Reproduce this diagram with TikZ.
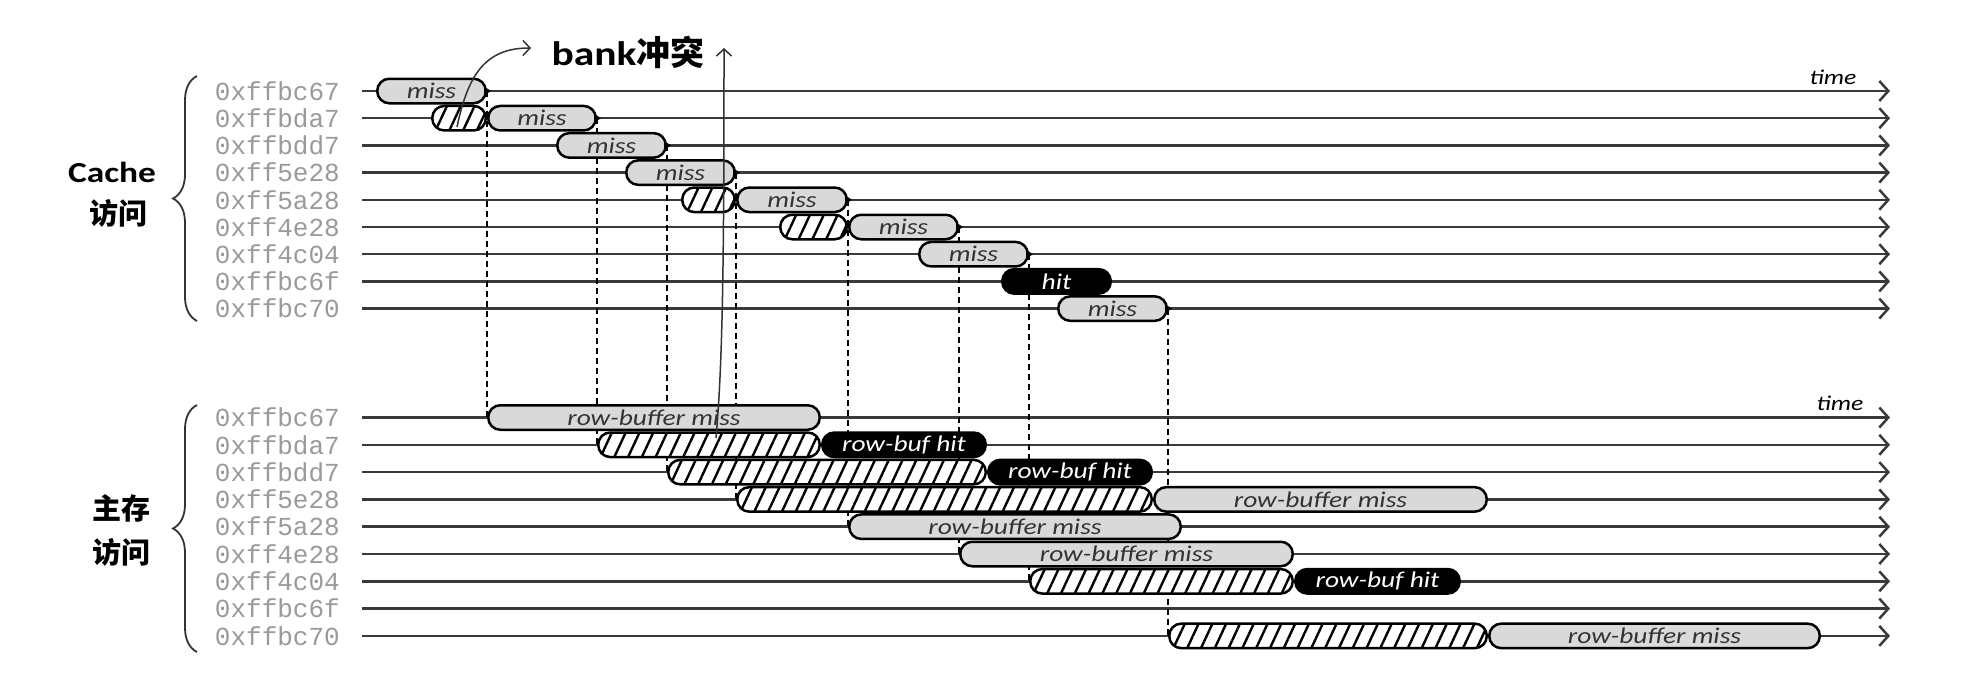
\documentclass[tikz,border=0pt]{standalone}
\usepackage{fontspec}
\setmainfont{Carlito}
\newfontfamily\boxfont[FakeStretch=1.22]{Carlito}
\newfontfamily\addrfont{Liberation Mono}
\newfontfamily\cjkfont{Noto Sans CJK SC}
\usetikzlibrary{arrows.meta,patterns.meta,decorations.pathreplacing,backgrounds}
\definecolor{boxgray}{HTML}{D9D9D9}
\definecolor{linegray}{HTML}{3A3A3A}
\definecolor{addrgray}{HTML}{9A9A9A}
\begin{document}
\begin{tikzpicture}[x=1pt,y=-1pt,
  box/.style={rectangle, rounded corners=12pt, draw=black, line width=2.5pt,
    minimum height=24.5pt, inner sep=0pt,
    font=\boxfont\itshape\fontsize{22.5pt}{22.5pt}\selectfont},
  gbox/.style={box, fill=boxgray, text=black!80},
  bbox/.style={box, fill=black, text=white},
  hbox/.style={box, preaction={fill=white},
    pattern={Lines[angle=65,distance=12.5pt,line width=2.4pt]}, pattern color=black},
  addr/.style={anchor=east, inner sep=0pt, text=addrgray,
    font=\addrfont\fontsize{26pt}{26pt}\selectfont},
  timeline/.style={draw=linegray, line width=2.5pt,
    -{Straight Barb[length=9pt,width=20pt]}},
  dashline/.style={draw=black, line width=1.6pt, dash pattern=on 6pt off 4pt},
  bracestyle/.style={draw=black!80, line width=1.8pt, decorate,
    decoration={brace, amplitude=24pt}},
  grouplbl/.style={inner sep=0pt, font=\boxfont\bfseries\fontsize{29pt}{29pt}\selectfont},
  cjklbl/.style={inner sep=0pt, font=\cjkfont\bfseries\fontsize{29pt}{29pt}\selectfont},
  timelbl/.style={inner sep=0pt, font=\boxfont\itshape\fontsize{21pt}{21pt}\selectfont},
  note/.style={draw=black!80, line width=1.5pt, -{Straight Barb[length=7pt,width=15pt]}}
]
\useasboundingbox (0,0) rectangle (1966,680);

% ---------- address labels ----------
\foreach \i/\y/\t in {0/91/0xffbc67,1/118.2/0xffbda7,2/145.4/0xffbdd7,3/172.6/0xff5e28,
  4/199.8/0xff5a28,5/227/0xff4e28,6/254.2/0xff4c04,7/281.4/0xffbc6f,8/308.6/0xffbc70}{
  \node[addr] (ta\i) at (340,\y) {\t};
  \coordinate (tl\i) at (362,\y);
  \coordinate (tr\i) at (1890,\y);
}
\foreach \i/\y/\t in {0/417.5/0xffbc67,1/444.8/0xffbda7,2/472.1/0xffbdd7,3/499.4/0xff5e28,
  4/526.7/0xff5a28,5/554/0xff4e28,6/581.3/0xff4c04,7/608.6/0xffbc6f,8/635.9/0xffbc70}{
  \node[addr] (ba\i) at (340,\y) {\t};
  \coordinate (bl\i) at (362,\y);
  \coordinate (br\i) at (1890,\y);
}

% ---------- group labels and braces ----------
\node[grouplbl] (cachelbl) at (112,172) {Cache};
\node[cjklbl] (cachefw) at (118,213) {访问};
\node[cjklbl] (mainlbl) at (121,508) {主存};
\node[cjklbl] (mainfw) at (121,552) {访问};
\coordinate (tbb) at (197,321);
\coordinate (tbt) at (197,76);
\coordinate (bbb) at (197,652);
\coordinate (bbt) at (197,405);
\draw[bracestyle] (tbb) -- (tbt);
\draw[bracestyle] (bbb) -- (bbt);

\node[timelbl] (time1) at (1833,77) {time};
\node[timelbl] (time2) at (1840,403) {time};

% ---------- cache accesses ----------
\node[gbox, minimum width=108.5pt] (c0) at (431.5,91) {miss};
\node[hbox, minimum width=53.5pt] (h1) at (459,118.2) {};
\node[gbox, minimum width=107.5pt] (c1) at (542,118.2) {miss};
\node[gbox, minimum width=108.5pt] (c2) at (611.5,145.4) {miss};
\node[gbox, minimum width=108.5pt] (c3) at (680.5,172.6) {miss};
\node[hbox, minimum width=52.5pt] (h4) at (708.5,199.8) {};
\node[gbox, minimum width=109.5pt] (c4) at (792,199.8) {miss};
\node[hbox, minimum width=66.5pt] (h5) at (813.5,227) {};
\node[gbox, minimum width=108.5pt] (c5) at (903.5,227) {miss};
\node[gbox, minimum width=108.5pt] (c6) at (973.5,254.2) {miss};
\node[bbox, minimum width=108.5pt] (c7) at (1056.5,281.4) {hit};
\node[gbox, minimum width=108.5pt] (c8) at (1112.5,308.6) {miss};
\foreach \n in {c0,c1,c2,c3,c4,c5,c6,c8}{
  \fill ([shift={(-3,-4.5)}]\n.east) -- ++(7,4.5) -- ++(-7,4.5) -- cycle;
}

% ---------- memory accesses ----------
\node[gbox, minimum width=331.5pt] (m0) at (654,417.5) {row-buffer miss};
\node[hbox, minimum width=221.5pt] (hm1) at (709,444.8) {};
\node[bbox, minimum width=163.5pt] (m1) at (904,444.8) {row-buf hit};
\node[hbox, minimum width=317.5pt] (hm2) at (827,472.1) {};
\node[bbox, minimum width=163.5pt] (m2) at (1070,472.1) {row-buf hit};
\node[hbox, minimum width=414.5pt] (hm3) at (944.5,499.4) {};
\node[gbox, minimum width=332.5pt] (m3) at (1320.5,499.4) {row-buffer miss};
\node[gbox, minimum width=331.5pt] (m4) at (1015,526.7) {row-buffer miss};
\node[gbox, minimum width=332.5pt] (m5) at (1126.5,554) {row-buffer miss};
\node[hbox, minimum width=262.5pt] (hm6) at (1161.5,581.3) {};
\node[bbox, minimum width=164.5pt] (m6) at (1377.5,581.3) {row-buf hit};
\node[hbox, minimum width=317.5pt] (hm8) at (1328,635.9) {};
\node[gbox, minimum width=330.5pt] (m8) at (1654.5,635.9) {row-buffer miss};

% ---------- background: timelines and dashed links ----------
\begin{scope}[on background layer]
  \fill[white] (0,0) rectangle (1966,680);
  \foreach \i in {0,...,8}{
    \draw[timeline] (tl\i) -- (tr\i);
    \draw[timeline] (bl\i) -- (br\i);
  }
  \draw[dashline] (c0.east) -- (m0.west);
  \draw[dashline] (c1.east) -- (hm1.west);
  \draw[dashline] (c2.east) -- (hm2.west);
  \draw[dashline] (c3.east) -- (hm3.west);
  \draw[dashline] (c4.east) -- (m4.west);
  \draw[dashline] (c5.east) -- (m5.west);
  \draw[dashline] (c6.east) -- (hm6.west);
  \draw[dashline] (c8.east) -- (hm8.west);
\end{scope}

% ---------- bank conflict annotation ----------
\node[inner sep=0pt] (bank) at (628,52)
  {\boxfont\bfseries\fontsize{34pt}{34pt}\selectfont bank\cjkfont\bfseries 冲突};
\coordinate (bendfoot) at (457,127);
\coordinate (bendtip) at (531,48);
\draw[note] (bendfoot) .. controls (468,75) and (485,48) .. (bendtip);
\coordinate (bankfoot) at (716,438);
\coordinate (banktip) at (724,48);
\draw[note] (bankfoot) .. controls (723,360) and (724,250) .. (banktip);
\end{tikzpicture}
\end{document}
